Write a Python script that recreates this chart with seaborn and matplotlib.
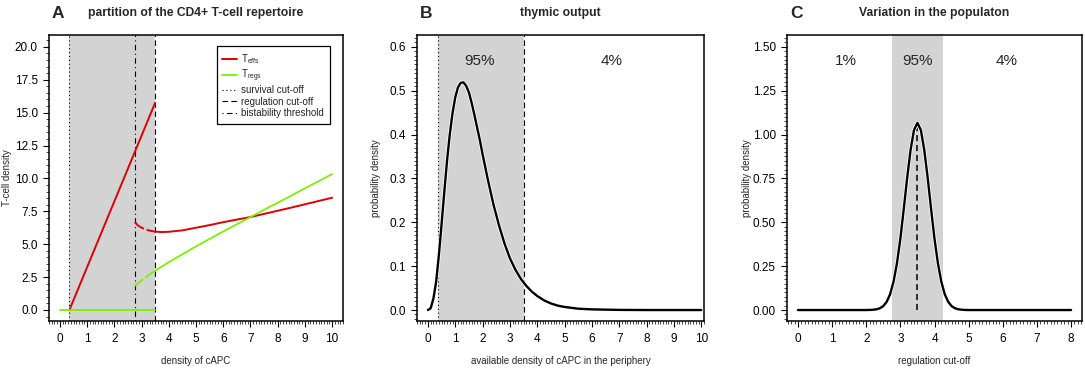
import matplotlib
matplotlib.use("Agg")
import matplotlib.pyplot as plt
import matplotlib.patheffects as pe
from matplotlib.ticker import MultipleLocator, FormatStrFormatter
from matplotlib.lines import Line2D
import numpy as np
import seaborn as sns

# ---- panel A: partition of the repertoire ----
effs_hi_x = [0.35, 3.5]
effs_hi_y = [0.0, 15.75]
effs_lo_x = [2.75, 2.85, 3.0, 3.25, 3.5, 3.75, 4.0, 4.5, 5.0, 5.5, 6.0,
             6.5, 7.0, 7.5, 8.0, 8.5, 9.0, 9.5, 10.0]
effs_lo_y = [6.70, 6.45, 6.25, 6.05, 5.95, 5.92, 5.94, 6.05, 6.25, 6.45,
             6.67, 6.87, 7.06, 7.30, 7.54, 7.78, 8.03, 8.28, 8.53]
regs_zero_x = [0.0, 3.5]
regs_zero_y = [0.0, 0.0]
regs_x = [2.75, 3.0, 3.25, 3.5, 4.0, 5.0, 6.0, 7.0, 8.0, 9.0, 10.0]
regs_y = [1.82, 2.25, 2.63, 2.99, 3.63, 4.83, 5.97, 7.06, 8.15, 9.24, 10.33]
survival_cut = 0.35
bistability = 2.75
regulation_cut = 3.5

# ---- panel B: thymic output ----
output_x = [0.0, 0.1, 0.2, 0.3, 0.4, 0.5, 0.6, 0.7, 0.8, 0.9, 1.0, 1.1, 1.2,
            1.3, 1.4, 1.5, 1.6, 1.7, 1.8, 1.9, 2.0, 2.2, 2.4, 2.6, 2.8, 3.0,
            3.2, 3.4, 3.6, 3.8, 4.0, 4.25, 4.5, 4.75, 5.0, 5.5, 6.0, 7.0,
            8.0, 10.0]
output_y = [0.0, 0.004, 0.026, 0.064, 0.125, 0.196, 0.270, 0.341, 0.401,
            0.449, 0.485, 0.508, 0.518, 0.519, 0.511, 0.496, 0.472, 0.445,
            0.416, 0.387, 0.355, 0.295, 0.240, 0.193, 0.152, 0.118, 0.092,
            0.071, 0.055, 0.042, 0.032, 0.022, 0.015, 0.010, 0.007, 0.003,
            0.0015, 0.0003, 0.0, 0.0]
output_pct = ["95%", "4%"]
output_pct_x = [1.9, 6.73]

# ---- panel C: variation in the population ----
cut_x = [0.0, 1.0, 2.0, 2.1, 2.2, 2.3, 2.4, 2.5, 2.6, 2.7, 2.8, 2.9, 3.0,
         3.1, 3.2, 3.3, 3.4, 3.5, 3.6, 3.7, 3.8, 3.9, 4.0, 4.1, 4.2, 4.3,
         4.4, 4.5, 4.6, 4.7, 4.8, 4.9, 5.0, 6.0, 7.0, 8.0]
cut_y = [0.0, 0.0, 0.0, 0.0005, 0.0016, 0.0041, 0.010, 0.0225, 0.047,
         0.090, 0.161, 0.266, 0.406, 0.576, 0.754, 0.913, 1.026, 1.066,
         1.026, 0.913, 0.754, 0.576, 0.406, 0.266, 0.161, 0.090, 0.047,
         0.0225, 0.010, 0.0041, 0.0016, 0.0005, 0.0, 0.0, 0.0, 0.0]
cut_lo, cut_mid, cut_hi = 2.75, 3.5, 4.25
cut_pct = ["1%", "95%", "4%"]
cut_pct_x = [1.39, 3.49, 6.1]

sns.set_theme(style="ticks")
plt.rcParams['font.family'] = ['Liberation Sans', 'DejaVu Sans']
plt.rcParams['mathtext.fontset'] = 'custom'
plt.rcParams['mathtext.rm'] = 'Liberation Sans'
plt.rcParams['axes.linewidth'] = 1.1
plt.rcParams['xtick.major.size'] = 4
plt.rcParams['ytick.major.size'] = 4
plt.rcParams['xtick.minor.size'] = 2.2
plt.rcParams['ytick.minor.size'] = 2.2
plt.rcParams['xtick.major.width'] = 0.8
plt.rcParams['ytick.major.width'] = 0.8
plt.rcParams['xtick.minor.width'] = 0.6
plt.rcParams['ytick.minor.width'] = 0.6
plt.rcParams['xtick.major.pad'] = 5
plt.rcParams['ytick.major.pad'] = 4

RED = "#dd0000"
GREEN = "#7cf000"
GRAY = "#d3d3d3"
DOT = (0, (1, 2.5))
DASH = (0, (5, 3))
DOTDASH = (0, (1, 3, 5, 3))
halo = [pe.Stroke(linewidth=2.8, foreground="white"), pe.Normal()]

fig = plt.figure(figsize=(10.85, 3.7), dpi=100)
W, H = 1085.0, 370.0


def make_ax(left, right, top=35, bottom=321):
    return fig.add_axes([left / W, 1 - bottom / H, (right - left) / W,
                         (bottom - top) / H])


def style(ax, xmaj, xmin, ymaj, ymin, yfmt):
    ax.xaxis.set_major_locator(MultipleLocator(xmaj))
    ax.xaxis.set_minor_locator(MultipleLocator(xmin))
    ax.yaxis.set_major_locator(MultipleLocator(ymaj))
    ax.yaxis.set_minor_locator(MultipleLocator(ymin))
    ax.yaxis.set_major_formatter(FormatStrFormatter(yfmt))
    ax.tick_params(labelsize=8.5, colors="black")
    for s in ax.spines.values():
        s.set_visible(True)
        s.set_color("black")
    ax.grid(False)


def labels_at(ax, xlabel, ylabel, ylab_x):
    ax.set_xlabel(xlabel, fontsize=7)
    ax.set_ylabel(ylabel, fontsize=7)
    ax.xaxis.set_label_coords(0.5, -0.122)
    ax.yaxis.set_label_coords(ylab_x, 0.5)


def panel_title(ax, letter, title):
    x0 = ax.get_position().x0
    xc = (ax.get_position().x0 + ax.get_position().x1) / 2
    fig.text(x0 + 3 / W, 1 - 13 / H, letter, fontsize=12.5,
             fontweight="bold", ha="left", va="center")
    fig.text(xc, 1 - 13 / H, title, fontsize=8.7, fontweight="bold",
             ha="center", va="center")


# ---------------- A ----------------
axA = make_ax(49, 343)
axA.axvspan(survival_cut, regulation_cut, color=GRAY, lw=0, zorder=0)
for xv, ls in [(survival_cut, DOT), (bistability, DOTDASH),
               (regulation_cut, DASH)]:
    axA.axvline(xv, color="black", lw=0.8, linestyle=ls, zorder=1)

sns.lineplot(x=effs_hi_x, y=effs_hi_y, ax=axA, color=RED, lw=1.4, zorder=3)
lo_x = np.array(effs_lo_x)
lo_y = np.array(effs_lo_y)
unst = lo_x <= regulation_cut
sns.lineplot(x=lo_x[unst], y=lo_y[unst], ax=axA, color=RED, lw=1.4,
             linestyle=(0, (6, 1.5)), zorder=3)
sns.lineplot(x=lo_x[lo_x >= regulation_cut], y=lo_y[lo_x >= regulation_cut],
             ax=axA, color=RED, lw=1.4, zorder=3)
rx = np.array(regs_x)
ry = np.array(regs_y)
runst = rx <= regulation_cut
sns.lineplot(x=rx[runst], y=ry[runst], ax=axA, color=GREEN, lw=1.3,
             linestyle=(0, (6, 1.5)), zorder=3)
sns.lineplot(x=rx[rx >= regulation_cut], y=ry[rx >= regulation_cut], ax=axA,
             color=GREEN, lw=1.3, zorder=3)
sns.lineplot(x=regs_zero_x, y=regs_zero_y, ax=axA, color=GREEN, lw=1.3,
             zorder=4)

axA.set_xlim(-0.4, 10.4)
axA.set_ylim(-0.84, 20.9)
style(axA, 1, 0.1, 2.5, 0.5, "%.1f")
labels_at(axA, "density of cAPC", "T-cell density", -0.127)
handles = [Line2D([], [], color=RED, lw=1.4),
           Line2D([], [], color=GREEN, lw=1.3),
           Line2D([], [], color="black", lw=0.8, linestyle=DOT),
           Line2D([], [], color="black", lw=0.8, linestyle=DASH),
           Line2D([], [], color="black", lw=0.8, linestyle=DOTDASH)]
labels = [r"T$_{\mathregular{effs}}$", r"T$_{\mathregular{regs}}$",
          "survival cut-off", "regulation cut-off", "bistability threshold"]
leg = axA.legend(handles, labels, loc="upper left",
                 bbox_to_anchor=(0.57, 0.96), fontsize=7, frameon=True,
                 fancybox=False, edgecolor="black", framealpha=1,
                 handlelength=1.45, handletextpad=0.5, labelspacing=0.15,
                 borderpad=0.6, borderaxespad=0)
leg.get_frame().set_linewidth(0.9)
panel_title(axA, "A", "partition of the CD4+ T-cell repertoire")

# ---------------- B ----------------
axB = make_ax(417, 704)
axB.axvspan(survival_cut, regulation_cut, color=GRAY, lw=0, zorder=0)
axB.axvline(survival_cut, color="black", lw=0.8, linestyle=DOT, zorder=1)
axB.axvline(regulation_cut, color="black", lw=0.8, linestyle=DASH, zorder=1)
sns.lineplot(x=output_x, y=output_y, ax=axB, color="black", lw=1.7,
             zorder=3, path_effects=halo)
for t, xv in zip(output_pct, output_pct_x):
    axB.text(xv, 0.568, t, fontsize=11, ha="center", va="center")
axB.set_xlim(-0.4, 10.1)
axB.set_ylim(-0.025, 0.627)
style(axB, 1, 0.1, 0.1, 0.01, "%.1f")
labels_at(axB, "available density of cAPC in the periphery",
          "probability density", -0.1265)
panel_title(axB, "B", "thymic output")

# ---------------- C ----------------
axC = make_ax(787, 1082)
axC.axvspan(cut_lo, cut_hi, color=GRAY, lw=0, zorder=0)
axC.plot([cut_mid, cut_mid], [0, max(cut_y)], color="black", lw=1.1,
         linestyle=(0, (4, 2.5)), zorder=2)
sns.lineplot(x=cut_x, y=cut_y, ax=axC, color="black", lw=1.7, zorder=3,
             path_effects=halo)
for t, xv in zip(cut_pct, cut_pct_x):
    axC.text(xv, 1.418, t, fontsize=11, ha="center", va="center")
axC.set_xlim(-0.32, 8.32)
axC.set_ylim(-0.0625, 1.567)
style(axC, 1, 0.1, 0.25, 0.025, "%.2f")
labels_at(axC, "regulation cut-off", "probability density", -0.1197)
panel_title(axC, "C", "Variation in the populaton")

fig.savefig("out.png", dpi=100)
